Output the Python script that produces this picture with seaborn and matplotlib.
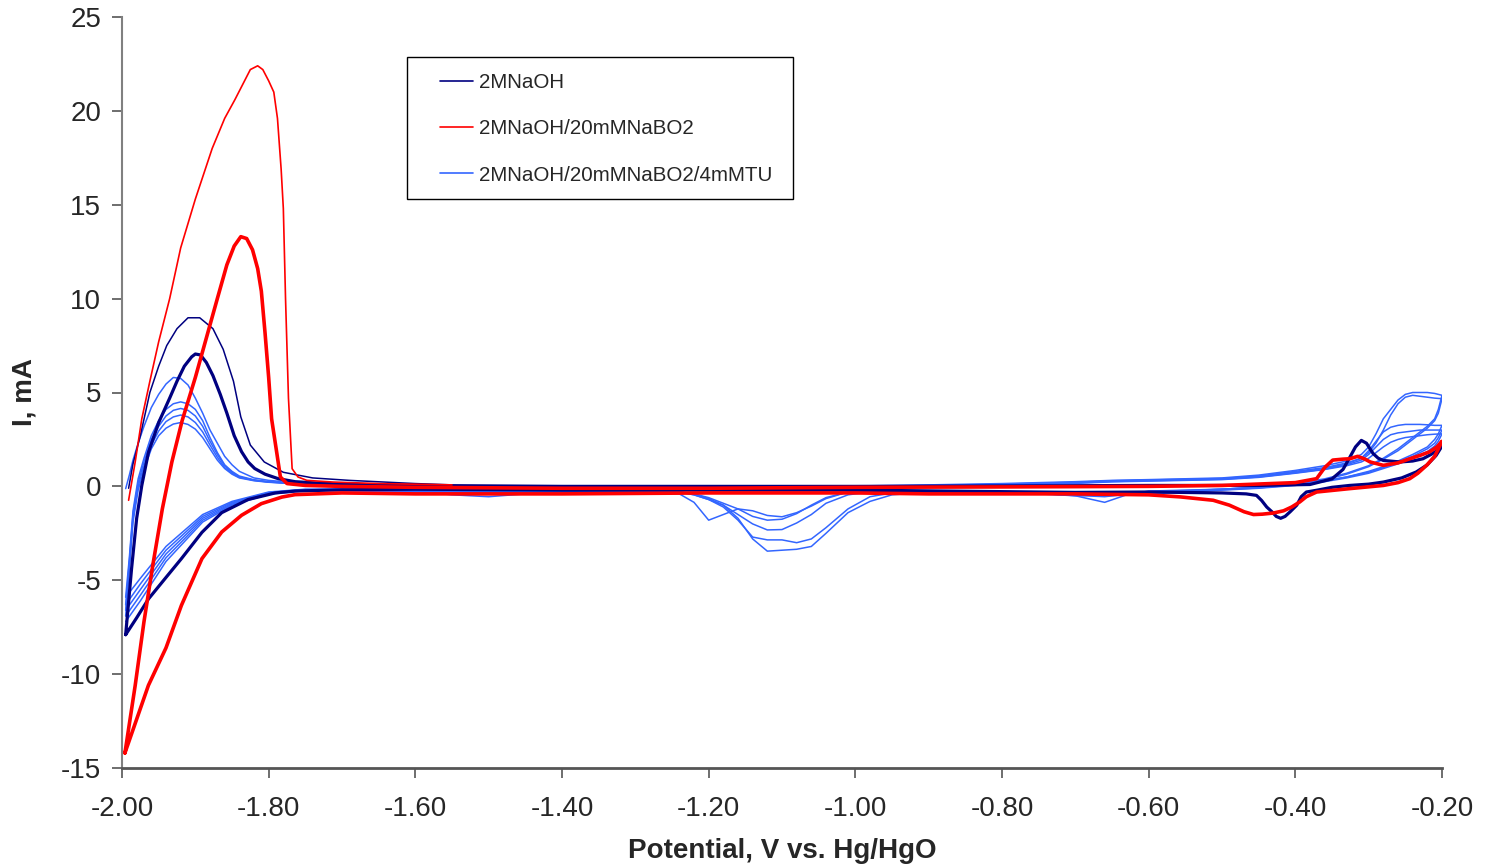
import matplotlib
matplotlib.use("Agg")
import matplotlib.pyplot as plt
import seaborn as sns
import pandas as pd
from matplotlib.lines import Line2D
from matplotlib.patches import Rectangle

# ---------------- data (potential V vs Hg/HgO, current mA) ----------------
series_names = ["2MNaOH", "2MNaOH/20mMNaBO2", "2MNaOH/20mMNaBO2/4mMTU"]
series_colors = ["#000080", "#FF0000", "#3366FF"]

x_ticks = [-2.00, -1.80, -1.60, -1.40, -1.20, -1.00, -0.80, -0.60, -0.40, -0.20]
y_ticks = [-15, -10, -5, 0, 5, 10, 15, 20, 25]

# 2M NaOH : first (initial) anodic sweep
naoh_first_E = [-1.991, -1.985, -1.975, -1.962, -1.95, -1.939, -1.925, -1.91, -1.894, -1.876,
                -1.862, -1.848, -1.838, -1.825, -1.806, -1.78, -1.74, -1.69, -1.60, -1.55]
naoh_first_I = [-0.1, 1.2, 2.7, 5.0, 6.4, 7.5, 8.4, 8.98, 8.98, 8.4,
                7.3, 5.6, 3.7, 2.2, 1.3, 0.75, 0.45, 0.32, 0.15, 0.08]

# 2M NaOH : steady cycle (anodic then cathodic)
naoh_cyc_E = [-1.995, -1.987, -1.98, -1.973, -1.964, -1.95, -1.935, -1.925, -1.915, -1.905,
              -1.90, -1.893, -1.885, -1.876, -1.866, -1.857, -1.847, -1.837, -1.828, -1.819,
              -1.805, -1.787, -1.764, -1.735, -1.70, -1.65, -1.60, -1.40, -1.20, -1.00,
              -0.80, -0.60, -0.45, -0.38, -0.35, -0.335, -0.325, -0.318, -0.31, -0.303,
              -0.294, -0.287, -0.28, -0.257, -0.24, -0.226, -0.215, -0.207, -0.20,
              -0.208, -0.22, -0.235, -0.255, -0.28, -0.30, -0.326, -0.35, -0.37, -0.385,
              -0.392, -0.398, -0.407, -0.414, -0.42, -0.426, -0.432, -0.439, -0.446, -0.453,
              -0.467, -0.50, -0.60, -0.70, -0.80, -1.00, -1.20, -1.40, -1.60, -1.70,
              -1.764, -1.791, -1.828, -1.864, -1.891, -1.919, -1.94, -1.964, -1.98, -1.995]
naoh_cyc_I = [-7.9, -4.4, -1.7, 0.05, 1.8, 3.4, 4.7, 5.6, 6.4, 6.9,
              7.05, 7.0, 6.6, 5.9, 4.9, 3.9, 2.7, 1.85, 1.3, 0.95,
              0.65, 0.41, 0.25, 0.18, 0.12, 0.08, 0.05, 0.0, 0.0, 0.0,
              0.02, 0.05, 0.05, 0.1, 0.4, 0.9, 1.6, 2.1, 2.45, 2.3,
              1.75, 1.5, 1.38, 1.3, 1.35, 1.47, 1.7, 1.9, 2.15,
              1.65, 1.15, 0.77, 0.45, 0.23, 0.12, 0.05, -0.05, -0.2, -0.3,
              -0.55, -1.0, -1.35, -1.6, -1.7, -1.6, -1.35, -1.1, -0.75, -0.48,
              -0.4, -0.35, -0.3, -0.32, -0.28, -0.2, -0.2, -0.2, -0.15, -0.18,
              -0.25, -0.35, -0.7, -1.4, -2.45, -3.85, -4.85, -6.0, -7.0, -7.9]

# 2M NaOH / 20 mM NaBO2 : first (initial) anodic sweep
bo2_first_E = [-1.991, -1.982, -1.973, -1.962, -1.95, -1.935, -1.92, -1.90, -1.877, -1.86,
               -1.846, -1.825, -1.815, -1.808, -1.80, -1.793, -1.788, -1.783, -1.78, -1.777,
               -1.773, -1.768, -1.76, -1.748, -1.712, -1.65, -1.55]
bo2_first_I = [-0.74, 1.3, 3.6, 5.6, 7.7, 10.0, 12.7, 15.3, 18.0, 19.6,
               20.6, 22.2, 22.4, 22.2, 21.6, 21.0, 19.6, 16.9, 14.8, 10.0,
               4.7, 0.94, 0.5, 0.32, 0.23, 0.15, 0.08]

# 2M NaOH / 20 mM NaBO2 : steady cycle
bo2_cyc_E = [-1.996, -1.982, -1.97, -1.958, -1.945, -1.932, -1.918, -1.90, -1.885, -1.87,
             -1.857, -1.847, -1.838, -1.83, -1.822, -1.815, -1.81, -1.805, -1.80, -1.796,
             -1.789, -1.784, -1.775, -1.75, -1.70, -1.60, -1.40, -1.20, -1.00, -0.80,
             -0.60, -0.50, -0.40, -0.371, -0.36, -0.349, -0.335, -0.326, -0.315, -0.305,
             -0.298, -0.28, -0.26, -0.244, -0.23, -0.217, -0.207, -0.20,
             -0.21, -0.221, -0.233, -0.244, -0.26, -0.28, -0.326, -0.371, -0.385, -0.394,
             -0.405, -0.416, -0.43, -0.445, -0.457, -0.47, -0.49, -0.512, -0.557, -0.60,
             -0.70, -0.80, -0.90, -1.00, -1.20, -1.40, -1.60, -1.70, -1.764, -1.782,
             -1.81, -1.837, -1.864, -1.891, -1.919, -1.94, -1.964, -1.98, -1.996]
bo2_cyc_I = [-14.2, -10.6, -7.2, -4.2, -1.2, 1.3, 3.5, 5.8, 7.9, 10.0,
             11.8, 12.8, 13.3, 13.2, 12.6, 11.6, 10.4, 8.2, 5.8, 3.6,
             1.8, 0.5, 0.15, 0.05, 0.0, -0.05, -0.1, -0.1, -0.05, -0.03,
             0.0, 0.05, 0.2, 0.41, 1.0, 1.4, 1.45, 1.47, 1.6, 1.45,
             1.3, 1.12, 1.25, 1.47, 1.65, 1.84, 2.1, 2.4,
             1.6, 1.12, 0.7, 0.41, 0.2, 0.05, -0.12, -0.3, -0.55, -0.83,
             -1.1, -1.3, -1.42, -1.48, -1.5, -1.35, -1.0, -0.74, -0.56, -0.45,
             -0.4, -0.4, -0.4, -0.35, -0.35, -0.4, -0.4, -0.35, -0.44, -0.57,
             -0.92, -1.54, -2.43, -3.85, -6.34, -8.6, -10.6, -12.4, -14.2]

# 2M NaOH / 20 mM NaBO2 / 4 mM TU : five cycles on common potential grids
tu_up_E = [-1.995, -1.99, -1.985, -1.978, -1.97, -1.96, -1.95, -1.94, -1.93, -1.92,
           -1.91, -1.90, -1.89, -1.88, -1.87, -1.86, -1.85, -1.84, -1.82, -1.80,
           -1.77, -1.74, -1.70, -1.60, -1.50, -1.40, -1.30, -1.20, -1.10, -1.00,
           -0.90, -0.80, -0.70, -0.65, -0.60, -0.50, -0.45, -0.40, -0.36, -0.33,
           -0.31, -0.30, -0.29, -0.28, -0.27, -0.26, -0.25, -0.24, -0.23, -0.22,
           -0.21, -0.20]
tu_down_E = [-0.20, -0.205, -0.21, -0.22, -0.24, -0.26, -0.28, -0.30, -0.33, -0.36,
             -0.40, -0.45, -0.50, -0.55, -0.60, -0.63, -0.66, -0.70, -0.75, -0.80,
             -0.90, -0.95, -0.98, -1.01, -1.04, -1.06, -1.08, -1.10, -1.12, -1.14,
             -1.16, -1.18, -1.20, -1.22, -1.24, -1.30, -1.40, -1.45, -1.50, -1.55,
             -1.60, -1.70, -1.75, -1.80, -1.85, -1.89, -1.94, -1.975, -1.995]

tu_c1_up = [-0.12, 0.6, 1.4, 2.3, 3.2, 4.2, 4.9, 5.45, 5.8, 5.75,
            5.4, 4.7, 3.9, 3.0, 2.3, 1.6, 1.15, 0.8, 0.45, 0.32,
            0.22, 0.15, 0.1, 0.05, 0.02, 0.0, 0.0, 0.0, 0.0, 0.02,
            0.08, 0.15, 0.25, 0.32, 0.36, 0.45, 0.6, 0.85, 1.1, 1.35,
            1.7, 2.1, 2.8, 3.6, 4.1, 4.6, 4.9, 5.0, 5.0, 5.0,
            4.95, 4.85]
tu_c1_down = [4.85, 4.1, 3.6, 3.2, 2.6, 2.0, 1.5, 1.1, 0.7, 0.4,
              0.15, -0.05, -0.15, -0.2, -0.25, -0.45, -0.85, -0.5, -0.35, -0.3,
              -0.25, -0.25, -0.25, -0.3, -0.65, -1.05, -1.4, -1.62, -1.55, -1.3,
              -1.2, -1.5, -1.8, -0.85, -0.4, -0.25, -0.22, -0.25, -0.28, -0.25,
              -0.2, -0.15, -0.15, -0.3, -0.8, -1.5, -3.2, -4.9, -5.9]
tu_c2_up = [-5.9, -3.8, -1.3, 0.4, 1.5, 2.7, 3.5, 4.1, 4.4, 4.5,
            4.4, 4.1, 3.5, 2.6, 1.8, 1.15, 0.8, 0.55, 0.35, 0.25,
            0.18, 0.12, 0.08, 0.04, 0.0, -0.02, -0.02, -0.02, 0.0, 0.0,
            0.05, 0.12, 0.22, 0.3, 0.34, 0.42, 0.55, 0.8, 1.0, 1.25,
            1.5, 1.8, 2.3, 3.0, 3.8, 4.4, 4.75, 4.85, 4.8, 4.75,
            4.7, 4.67]
tu_c2_down = [4.67, 3.9, 3.5, 3.1, 2.5, 1.9, 1.45, 1.05, 0.65, 0.35,
              0.1, -0.05, -0.15, -0.22, -0.28, -0.35, -0.4, -0.38, -0.32, -0.3,
              -0.27, -0.25, -0.25, -0.3, -0.6, -1.0, -1.45, -1.75, -1.8, -1.6,
              -1.2, -0.9, -0.6, -0.4, -0.3, -0.25, -0.3, -0.4, -0.55, -0.45,
              -0.25, -0.17, -0.17, -0.33, -0.85, -1.6, -3.4, -5.2, -6.3]
tu_c3_up = [-6.3, -4.0, -1.5, 0.2, 1.3, 2.5, 3.2, 3.75, 4.05, 4.15,
            4.05, 3.75, 3.2, 2.4, 1.7, 1.1, 0.75, 0.5, 0.33, 0.24,
            0.17, 0.12, 0.08, 0.03, 0.0, -0.03, -0.03, -0.03, -0.02, 0.0,
            0.04, 0.1, 0.2, 0.28, 0.32, 0.4, 0.52, 0.75, 0.95, 1.2,
            1.5, 1.9, 2.4, 2.9, 3.15, 3.25, 3.3, 3.3, 3.3, 3.28,
            3.25, 3.25]
tu_c3_down = [3.25, 2.8, 2.5, 2.1, 1.7, 1.35, 1.05, 0.8, 0.5, 0.3,
              0.1, -0.05, -0.15, -0.25, -0.3, -0.35, -0.45, -0.5, -0.4, -0.32,
              -0.28, -0.28, -0.3, -0.45, -0.9, -1.5, -1.95, -2.3, -2.32, -2.0,
              -1.5, -1.0, -0.65, -0.4, -0.3, -0.28, -0.28, -0.3, -0.32, -0.3,
              -0.25, -0.19, -0.19, -0.36, -0.9, -1.7, -3.6, -5.5, -6.6]
tu_c4_up = [-6.6, -4.2, -1.7, 0.0, 1.1, 2.2, 2.95, 3.45, 3.7, 3.8,
            3.7, 3.4, 2.9, 2.2, 1.55, 1.0, 0.7, 0.48, 0.32, 0.23,
            0.16, 0.11, 0.07, 0.02, -0.02, -0.04, -0.04, -0.04, -0.03, -0.01,
            0.03, 0.09, 0.18, 0.26, 0.3, 0.38, 0.5, 0.72, 0.92, 1.15,
            1.4, 1.7, 2.1, 2.5, 2.75, 2.85, 2.9, 2.95, 3.0, 3.0,
            3.0, 3.0]
tu_c4_down = [3.0, 2.6, 2.3, 2.0, 1.6, 1.3, 1.0, 0.75, 0.5, 0.28,
              0.08, -0.08, -0.18, -0.28, -0.35, -0.42, -0.55, -0.48, -0.38, -0.33,
              -0.3, -0.35, -0.55, -1.2, -2.2, -2.8, -3.0, -2.85, -2.85, -2.7,
              -1.8, -1.1, -0.7, -0.45, -0.3, -0.28, -0.3, -0.32, -0.35, -0.32,
              -0.27, -0.21, -0.21, -0.39, -0.95, -1.8, -3.8, -5.8, -6.9]
tu_c5_up = [-6.9, -4.4, -1.9, -0.2, 0.9, 2.0, 2.7, 3.1, 3.32, 3.4,
            3.3, 3.05, 2.6, 2.0, 1.4, 0.95, 0.65, 0.45, 0.3, 0.22,
            0.15, 0.1, 0.06, 0.01, -0.03, -0.05, -0.05, -0.05, -0.04, -0.02,
            0.02, 0.08, 0.16, 0.24, 0.28, 0.36, 0.48, 0.7, 0.9, 1.1,
            1.3, 1.5, 1.8, 2.1, 2.35, 2.5, 2.6, 2.65, 2.7, 2.75,
            2.78, 2.8]
tu_c5_down = [2.8, 2.4, 2.15, 1.85, 1.5, 1.2, 0.95, 0.7, 0.45, 0.25,
              0.05, -0.1, -0.2, -0.3, -0.38, -0.45, -0.5, -0.45, -0.4, -0.35,
              -0.3, -0.45, -0.8, -1.4, -2.5, -3.2, -3.35, -3.4, -3.45, -2.8,
              -1.7, -1.0, -0.7, -0.45, -0.3, -0.3, -0.32, -0.35, -0.38, -0.35,
              -0.3, -0.23, -0.23, -0.42, -1.0, -1.9, -4.0, -6.1, -7.2]

# ---------------- assemble long table ----------------
rows = []
def add_trace(name, series, E, I, width):
    assert len(E) == len(I), (name, len(E), len(I))
    for k, (e, i) in enumerate(zip(E, I)):
        rows.append(dict(trace=name, series=series, order=k, E=e, I=i, width=width))

tu_cycles = [(tu_c1_up, tu_c1_down), (tu_c2_up, tu_c2_down), (tu_c3_up, tu_c3_down),
             (tu_c4_up, tu_c4_down), (tu_c5_up, tu_c5_down)]
for n, (up, down) in enumerate(tu_cycles):
    add_trace(f"tu{n}", series_names[2], tu_up_E + tu_down_E, up + down, 1.1)
add_trace("naoh_cyc", series_names[0], naoh_cyc_E, naoh_cyc_I, 2.3)
add_trace("naoh_first", series_names[0], naoh_first_E, naoh_first_I, 1.1)
add_trace("bo2_first", series_names[1], bo2_first_E, bo2_first_I, 1.2)
add_trace("bo2_cyc", series_names[1], bo2_cyc_E, bo2_cyc_I, 2.6)
df = pd.DataFrame(rows)

# ---------------- plot ----------------
sns.set_theme(style="white")
plt.rcParams["font.family"] = ["Liberation Sans", "DejaVu Sans"]
plt.rcParams["axes.unicode_minus"] = False

W, H = 1485, 865
fig = plt.figure(figsize=(W / 100, H / 100), dpi=100)
ax = fig.add_axes([122 / W, 1 - 768 / H, 1320 / W, 751 / H])

palette = dict(zip(series_names, series_colors))
for name in df["trace"].unique():
    sub = df[df["trace"] == name]
    sns.lineplot(data=sub, x="E", y="I", sort=False, estimator=None,
                 color=palette[sub["series"].iloc[0]], lw=sub["width"].iloc[0],
                 ax=ax, legend=False)

ax.set_xlim(-2.0, -0.2)
ax.set_ylim(-15, 25)
ax.set_xticks(x_ticks)
ax.set_xticklabels([f"{v:.2f}" for v in x_ticks])
ax.set_yticks(y_ticks)
ax.set_yticklabels([str(v) for v in y_ticks])

for s in ["top", "right"]:
    ax.spines[s].set_visible(False)
ax.spines["left"].set_color("#808080")
ax.spines["left"].set_linewidth(1.5)
ax.spines["bottom"].set_color("#555555")
ax.spines["bottom"].set_linewidth(2.0)

ax.tick_params(axis="y", direction="out", length=7, width=1.2, color="#555555",
               labelsize=20, pad=8, left=True)
ax.tick_params(axis="x", direction="out", length=7, width=1.2, color="#555555",
               labelsize=20, pad=13, bottom=True)

ax.set_xlabel("Potential, V vs. Hg/HgO", fontsize=20, fontweight="bold")
ax.set_ylabel("I, mA", fontsize=20, fontweight="bold")
ax.xaxis.set_label_coords(0.5, -0.093)
ax.yaxis.set_label_coords(-0.064, 0.5)

# legend box (fixed frame) and entries
frame = Rectangle((407 / W, 1 - 199 / H), 386 / W, 142 / H, transform=fig.transFigure,
                  facecolor="white", edgecolor="black", lw=1.0, zorder=4)
fig.patches.append(frame)
handles = [Line2D([0], [0], color=c, lw=1.2) for c in series_colors]
leg = fig.legend(handles, series_names, loc="upper left",
                 bbox_to_anchor=(440 / W, 1 - 73 / H), bbox_transform=fig.transFigure,
                 borderaxespad=0, borderpad=0, fontsize=14.8, frameon=False,
                 handlelength=1.6, handletextpad=0.3, labelspacing=1.33)
leg.set_zorder(5)

fig.savefig("out.png", dpi=100)
